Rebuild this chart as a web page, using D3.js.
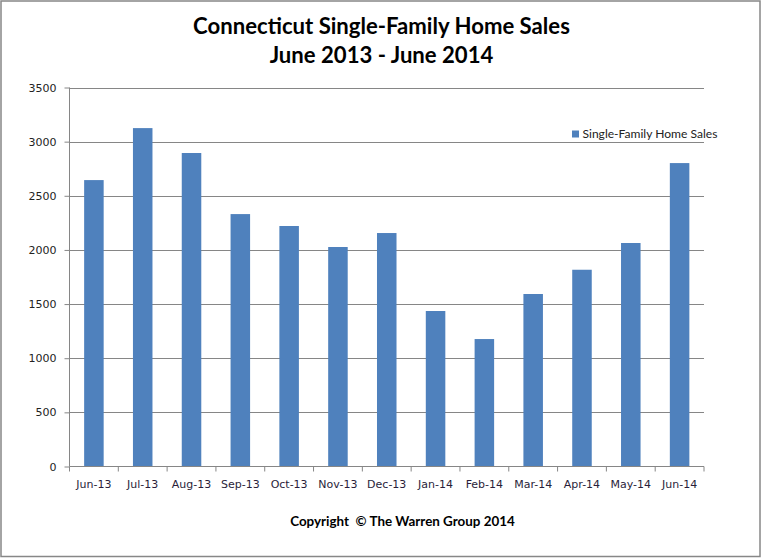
<!DOCTYPE html>
<html>
<head>
<meta charset="utf-8">
<script src="https://cdn.jsdelivr.net/npm/d3@7"></script>
<style>
  html, body { margin: 0; padding: 0; background: #fff; }
  svg { display: block; }
</style>
</head>
<body>
<svg id="chart" width="762" height="559"></svg>
<script>
const categories = ["Jun-13","Jul-13","Aug-13","Sep-13","Oct-13","Nov-13","Dec-13","Jan-14","Feb-14","Mar-14","Apr-14","May-14","Jun-14"];
const sales = [2645, 3125, 2895, 2331, 2221, 2027, 2156, 1436, 1177, 1593, 1817, 2064, 2802];
const yTicks = [0, 500, 1000, 1500, 2000, 2500, 3000, 3500];
const seriesName = "Single-Family Home Sales";
const titleLines = ["Connecticut Single-Family Home Sales", "June 2013 - June 2014"];
const footer = "Copyright  \u00A9 The Warren Group 2014";

const svg = d3.select("#chart");
const plot = {left: 69.5, right: 704, top: 87.5, bottom: 466.5};
const gridColor = "#868686";
const barColor = "#4F81BD";

// outer border
svg.append("rect").attr("x", 1).attr("y", 1).attr("width", 759).attr("height", 555.5)
  .attr("fill", "#fff").attr("stroke", "#878787").attr("stroke-width", 1.5);

const x = d3.scaleBand().domain(categories).range([plot.left, plot.right]).paddingInner(0.6).paddingOuter(0.3);
const xb = d3.scaleBand().domain(categories).range([plot.left, plot.right]);
const y = d3.scaleLinear().domain([0, 3500]).range([plot.bottom, plot.top]);

// gridlines
svg.append("g").selectAll("line").data(yTicks.filter(d => d > 0)).join("line")
  .attr("x1", plot.left).attr("x2", plot.right)
  .attr("y1", d => Math.round(y(d)) + 0.5).attr("y2", d => Math.round(y(d)) + 0.5)
  .attr("stroke", gridColor).attr("stroke-width", 1);

// bars
svg.append("g").selectAll("rect").data(categories).join("rect")
  .attr("x", d => x(d))
  .attr("width", x.bandwidth())
  .attr("y", (d, i) => y(sales[i]))
  .attr("height", (d, i) => y(0) - y(sales[i]))
  .attr("fill", barColor);

// y axis
const yAxis = d3.axisLeft(y).tickValues(yTicks).tickSize(5).tickPadding(8).tickFormat(d3.format("d"));
const gy = svg.append("g").attr("transform", `translate(${plot.left},0)`).call(yAxis);
gy.select(".domain").attr("stroke", gridColor).attr("d", `M0,${plot.top}V${plot.bottom}`);
gy.selectAll(".tick line").attr("stroke", gridColor);
gy.selectAll(".tick text").attr("font-family", "DejaVu Sans").attr("font-size", 11).attr("fill", "#222");

// x axis
const gx = svg.append("g").attr("transform", `translate(0,${plot.bottom})`);
gx.append("line").attr("x1", plot.left).attr("x2", plot.right).attr("y1", 0).attr("y2", 0).attr("stroke", gridColor);
const boundaries = categories.map(c => xb(c)).concat([plot.right]);
gx.selectAll("line.tk").data(boundaries).join("line").attr("class", "tk")
  .attr("x1", d => d).attr("x2", d => d).attr("y1", 0).attr("y2", 5).attr("stroke", gridColor);
gx.selectAll("text").data(categories).join("text")
  .attr("x", d => xb(d) + xb.bandwidth() / 2).attr("y", 21.5)
  .attr("text-anchor", "middle").attr("font-family", "DejaVu Sans").attr("font-size", 11).attr("fill", "#2a1e3a")
  .text(d => d);

function fitWidth(sel, target) {
  const w = sel.node().getComputedTextLength();
  const fs = parseFloat(sel.attr("font-size"));
  sel.attr("font-size", fs * target / w);
}

// title
const t1 = svg.append("text").attr("x", 381.5).attr("y", 34).attr("text-anchor", "middle")
  .attr("font-family", "Lato").attr("font-weight", "bold").attr("font-size", 20).attr("fill", "#000").text(titleLines[0]);
fitWidth(t1, 377);
svg.append("text").attr("x", 381.5).attr("y", 62.7).attr("text-anchor", "middle")
  .attr("font-family", "Lato").attr("font-weight", "bold").attr("font-size", t1.attr("font-size")).attr("fill", "#000").text(titleLines[1]);

// legend
const lg = svg.append("g");
lg.append("rect").attr("x", 572).attr("y", 130.5).attr("width", 7).attr("height", 7).attr("fill", barColor);
const lt = lg.append("text").attr("x", 582.5).attr("y", 137.5).attr("font-family", "Lato").attr("font-size", 12).attr("fill", "#222").text(seriesName);
fitWidth(lt, 135);

// footer
const ft = svg.append("text").attr("x", 402.5).attr("y", 526).attr("text-anchor", "middle")
  .style("white-space", "pre")
  .attr("font-family", "Lato").attr("font-weight", "bold").attr("font-size", 13).attr("fill", "#000").text(footer);
fitWidth(ft, 225);
</script>
</body>
</html>
